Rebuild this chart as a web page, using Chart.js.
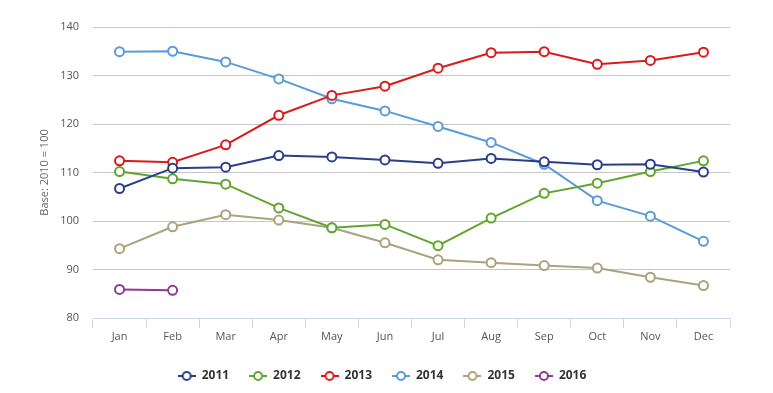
<!DOCTYPE html>
<html>
<head>
<meta charset="utf-8">
<script src="https://cdn.jsdelivr.net/npm/chart.js@4"></script>
<style>
  html, body { margin: 0; padding: 0; background: #fff; }
  #wrap { width: 773px; height: 393px; }
</style>
</head>
<body>
<div id="wrap"><canvas id="canva" width="773" height="393"></canvas></div>
<script>
var months = ['Jan', 'Feb', 'Mar', 'Apr', 'May', 'Jun', 'Jul', 'Aug', 'Sep', 'Oct', 'Nov', 'Dec'];
var years = ['2011', '2012', '2013', '2014', '2015', '2016'];
var colors = ['#2a3f88', '#60a52c', '#d81c1c', '#5b9bd7', '#aaa37e', '#913a93'];

var v2011 = [106.7, 110.9, 111.1, 113.5, 113.2, 112.6, 111.9, 112.9, 112.2, 111.6, 111.7, 110.1];
var v2012 = [110.2, 108.7, 107.6, 102.7, 98.6, 99.3, 94.9, 100.6, 105.7, 107.8, 110.2, 112.4];
var v2013 = [112.4, 112.1, 115.7, 121.8, 125.9, 127.8, 131.5, 134.7, 134.9, 132.3, 133.1, 134.8];
var v2014 = [134.9, 135.0, 132.8, 129.3, 125.2, 122.7, 119.5, 116.2, 111.7, 104.2, 101.0, 95.8];
var v2015 = [94.3, 98.8, 101.3, 100.2, 98.6, 95.5, 92.0, 91.4, 90.8, 90.3, 88.4, 86.7];
var v2016 = [85.9, 85.7];

var series = [v2011, v2012, v2013, v2014, v2015, v2016];
var font = '"Open Sans", "DejaVu Sans", sans-serif';

// little line-with-circle symbol for the legend
function legendIcon(color) {
  var c = document.createElement('canvas');
  c.width = 18; c.height = 12;
  var g = c.getContext('2d');
  g.strokeStyle = color;
  g.lineWidth = 2;
  g.beginPath(); g.moveTo(0, 6); g.lineTo(18, 6); g.stroke();
  g.beginPath(); g.arc(9, 6, 4, 0, Math.PI * 2);
  g.fillStyle = '#fff'; g.fill(); g.stroke();
  return c;
}

var datasets = [];
for (var i = 0; i < years.length; i++) {
  datasets.push({
    label: years[i],
    data: series[i],
    borderColor: colors[i],
    backgroundColor: '#fff',
    borderWidth: 2,
    pointRadius: 4.5,
    pointHoverRadius: 4.5,
    pointBorderWidth: 2,
    pointBackgroundColor: '#fff',
    pointBorderColor: colors[i],
    tension: 0,
    fill: false
  });
}

new Chart(document.getElementById('canva'), {
  type: 'line',
  data: { labels: months, datasets: datasets },
  options: {
    responsive: false,
    animation: false,
    layout: { padding: { left: 34, right: 43, top: 27, bottom: 1 } },
    plugins: {
      tooltip: { enabled: false },
      legend: {
        position: 'bottom',
        labels: {
          usePointStyle: true,
          pointStyleWidth: 18,
          padding: 20,
          color: '#333',
          font: { family: font, size: 12, weight: 'bold' },
          generateLabels: function (chart) {
            return chart.data.datasets.map(function (ds, k) {
              return {
                text: ds.label,
                fillStyle: '#fff',
                strokeStyle: ds.borderColor,
                lineWidth: 0,
                pointStyle: legendIcon(ds.borderColor),
                datasetIndex: k,
                hidden: false,
                fontColor: '#333'
              };
            });
          }
        }
      }
    },
    scales: {
      x: {
        offset: true,
        afterFit: function (scale) { scale.height = 32; },
        grid: { display: true, drawOnChartArea: false, tickLength: 10, color: '#ccd6eb', offset: true },
        border: { color: '#ccd6eb' },
        ticks: { color: '#555', font: { family: font, size: 11 }, padding: 2 }
      },
      y: {
        min: 80,
        max: 140,
        afterFit: function (scale) { scale.width = 59; },
        ticks: { stepSize: 10, color: '#555', font: { family: font, size: 11 }, padding: 14 },
        grid: { color: '#c6c6c6', drawTicks: false },
        border: { display: false },
        title: { display: true, text: 'Base: 2010 = 100', color: '#666', font: { family: font, size: 11 }, padding: 4 }
      }
    }
  }
});
</script>
</body>
</html>
